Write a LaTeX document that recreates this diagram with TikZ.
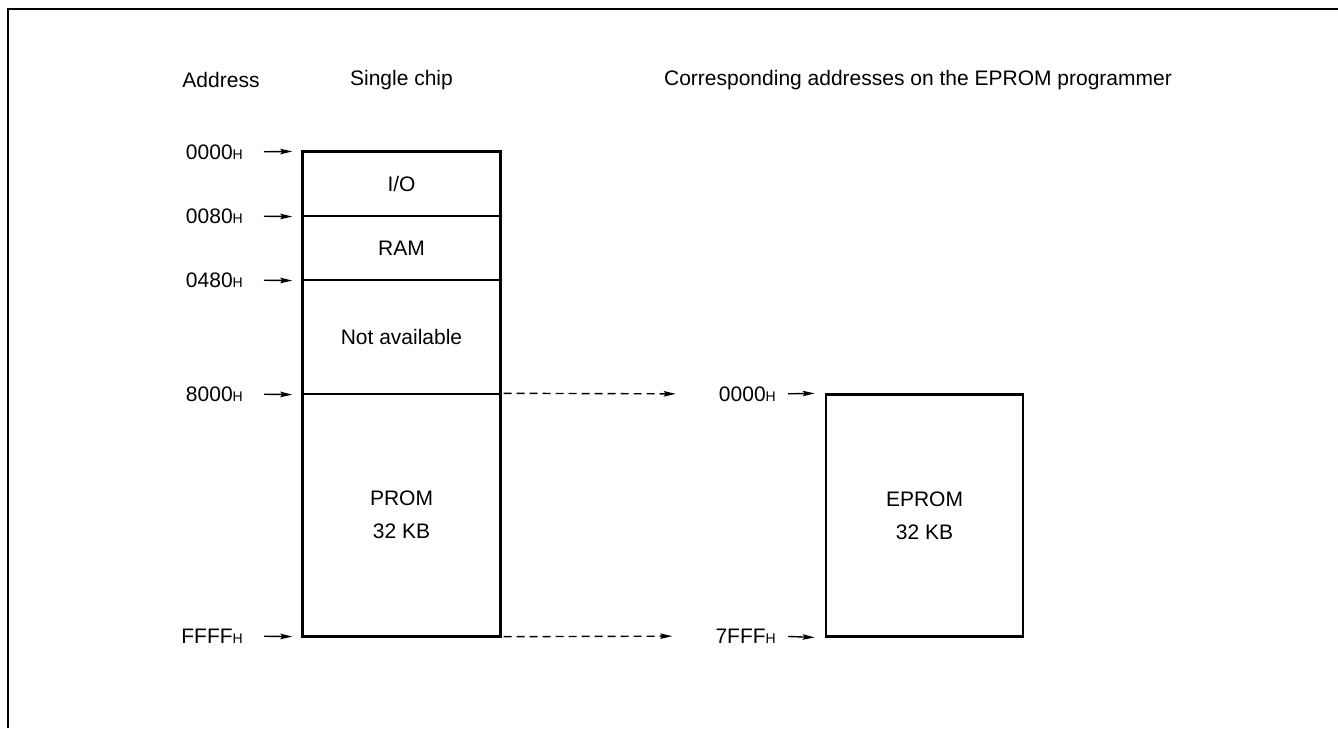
\documentclass[tikz,border=0pt]{standalone}
\usepackage{fontspec}
\setmainfont{Liberation Sans}
\usetikzlibrary{arrows.meta}
\newcommand{\hexh}[1]{#1{\fontsize{14}{14}\selectfont H}}

\begin{document}
\begin{tikzpicture}[x=1pt,y=-1pt,font=\fontsize{21}{33}\selectfont,
  seg/.style={draw,line width=1.4pt,minimum width=197pt,inner sep=0pt,align=center},
  adr/.style={inner sep=0pt,anchor=east},
  ptr/.style={-{Stealth[length=12pt,width=5.5pt,inset=2pt]},line width=1.4pt},
  jump/.style={ptr,dash pattern=on 8pt off 5pt}]
\useasboundingbox (0,0) rectangle (1338,728);
\draw[line width=2.6pt] (8,728) -- (8,9) -- (1338,9);
% headings
\node (hdaddr) at (221,80) {Address};
\node (hdchip) at (401.5,80) {Single chip};
\node (hdprog) at (918,80) {Corresponding addresses on the EPROM programmer};
% single chip map
\node[seg,minimum height=64pt] (io) at (401.5,184) {I/O};
\node[seg,minimum height=64pt] (ram) at (401.5,248) {RAM};
\node[seg,minimum height=114pt] (na) at (401.5,337) {Not available};
\node[seg,minimum height=242pt] (prom) at (401.5,515) {PROM\\32 KB};
\draw[line width=2.6pt] (io.north west) rectangle (prom.south east);
% programmer map
\node[seg,line width=2.6pt,minimum height=242pt] (eprom) at (924.5,515.5) {EPROM\\32 KB};
% addresses
\node[adr] (a0) at (243,152) {\hexh{0000}};
\node[adr] (a1) at (243,216) {\hexh{0080}};
\node[adr] (a2) at (243,280) {\hexh{0480}};
\node[adr] (a3) at (243,394) {\hexh{8000}};
\node[adr] (a4) at (243,636) {\hexh{FFFF}};
\node[adr] (e0) at (776,394) {\hexh{0000}};
\node[adr] (e1) at (776,636) {\hexh{7FFF}};
\draw[ptr,shorten <=21pt,shorten >=10pt] (a0.east) -- (io.north west);
\draw[ptr,shorten <=21pt,shorten >=10pt] (a1.east) -- (io.south west);
\draw[ptr,shorten <=21pt,shorten >=10pt] (a2.east) -- (ram.south west);
\draw[ptr,shorten <=21pt,shorten >=10pt] (a3.east) -- (na.south west);
\draw[ptr,shorten <=21pt,shorten >=10pt] (a4.east) -- (prom.south west);
\draw[ptr,shorten <=12pt,shorten >=10pt] (e0.east) -- (eprom.north west);
\draw[ptr,shorten <=12pt,shorten >=10pt] (e1.east) -- (eprom.south west);
\draw[jump,shorten <=3pt,shorten >=43pt] (prom.north east) -- (e0.west);
\draw[jump,shorten <=3pt,shorten >=43pt] (prom.south east) -- (e1.west);
\end{tikzpicture}
\end{document}
